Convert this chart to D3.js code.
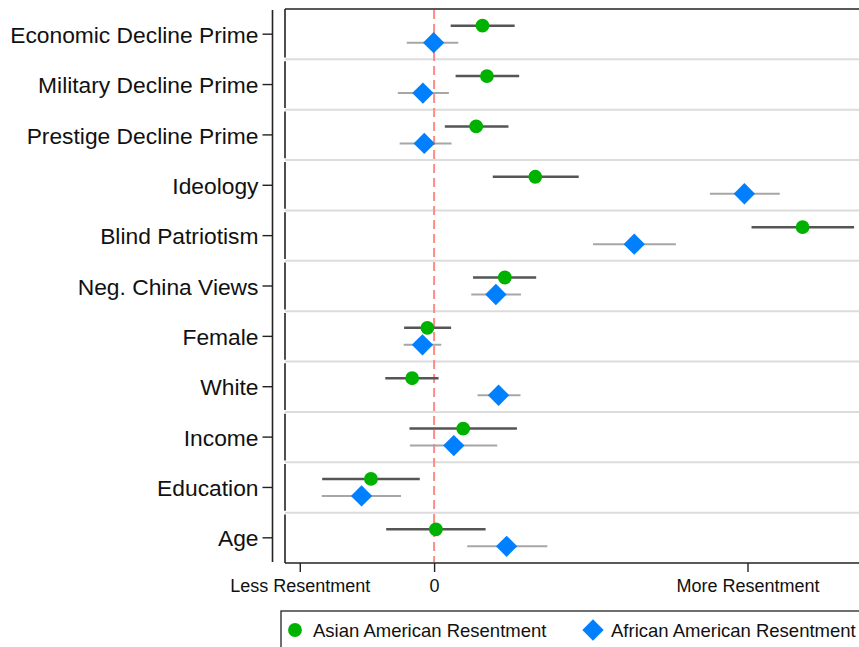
<!DOCTYPE html>
<html>
<head>
<meta charset="utf-8">
<script src="https://cdn.jsdelivr.net/npm/d3@7"></script>
<style>
  html, body { margin: 0; padding: 0; background: #fff; overflow: hidden; }
  svg { display: block; font-family: "Liberation Sans", Arial, Helvetica, sans-serif; }
</style>
</head>
<body>
<div id="chart"></div>
<script>
// Row labels, top to bottom
const variables = [
  'Economic Decline Prime', 'Military Decline Prime', 'Prestige Decline Prime',
  'Ideology', 'Blind Patriotism', 'Neg. China Views', 'Female', 'White',
  'Income', 'Education', 'Age'
];

// Asian American Resentment: estimate and CI
const asianEst = [0.108, 0.118, 0.094, 0.226, 0.823, 0.158, -0.015, -0.049, 0.065, -0.141, 0.004];
const asianLo  = [0.037, 0.048, 0.024, 0.131, 0.709, 0.087, -0.067, -0.109, -0.055, -0.250, -0.107];
const asianHi  = [0.180, 0.190, 0.166, 0.323, 0.938, 0.228, 0.038, 0.010, 0.185, -0.032, 0.115];

// African American Resentment: estimate and CI
const africanEst = [-0.001, -0.025, -0.022, 0.693, 0.447, 0.138, -0.026, 0.144, 0.044, -0.162, 0.162];
const africanLo  = [-0.061, -0.081, -0.077, 0.616, 0.355, 0.083, -0.068, 0.097, -0.054, -0.251, 0.074];
const africanHi  = [0.054, 0.033, 0.039, 0.772, 0.540, 0.194, 0.016, 0.193, 0.141, -0.074, 0.253];

// x axis ticks
const xTickValues = [-0.3, 0, 0.7];
const xTickLabels = ['Less Resentment', '0', 'More Resentment'];

const width = 859, height = 647;
const margin = { left: 285, top: 9, bottom: 563 };

const svg = d3.select('#chart').append('svg')
  .attr('width', width)
  .attr('height', height);

const x = d3.scaleLinear().domain([-0.333, 0.949]).range([margin.left, width]);
const y = d3.scaleBand().domain(variables).range([margin.top, margin.bottom]).padding(0);
const offset = d3.scalePoint().domain(['asian', 'african']).range([-8.5, 8.5]);

const series = [
  { key: 'asian', name: 'Asian American Resentment', est: asianEst, lo: asianLo, hi: asianHi,
    color: '#00b200', ci: '#555555', ciWidth: 2.5, shape: d3.symbolCircle, size: 150 },
  { key: 'african', name: 'African American Resentment', est: africanEst, lo: africanLo, hi: africanHi,
    color: '#0080ff', ci: '#a6a6a6', ciWidth: 2, shape: d3.symbolDiamond2, size: 290 }
];

// gridlines between bands
const bounds = variables.slice(1).map(v => y(v));
svg.append('g').selectAll('line')
  .data(bounds)
  .join('line')
  .attr('x1', margin.left).attr('x2', width)
  .attr('y1', d => d).attr('y2', d => d)
  .attr('stroke', '#dcdcdc')
  .attr('stroke-width', 2);

// frame: top, bottom, broken left edge
const frame = svg.append('g').attr('stroke', '#222').attr('stroke-width', 1.6).attr('fill', 'none');
frame.append('line').attr('x1', margin.left).attr('x2', width).attr('y1', margin.top).attr('y2', margin.top);
frame.append('line').attr('x1', margin.left).attr('x2', width).attr('y1', margin.bottom).attr('y2', margin.bottom);
frame.selectAll('.seg')
  .data(variables)
  .join('line')
  .attr('class', 'seg')
  .attr('x1', margin.left).attr('x2', margin.left)
  .attr('y1', (d, i) => y(d) + (i === 0 ? 0 : 1.8))
  .attr('y2', (d, i) => y(d) + y.bandwidth() - (i === variables.length - 1 ? 0 : 1.8));

// outer y axis
const yAxis = d3.axisLeft(y).tickSize(10).tickPadding(4);
const yg = svg.append('g')
  .attr('transform', 'translate(272.5,0)')
  .call(yAxis);
yg.select('.domain').attr('stroke', '#222').attr('stroke-width', 1.6)
  .attr('d', `M0,${margin.top + 1}V${margin.bottom - 1}`);
yg.selectAll('.tick line').attr('stroke', '#222').attr('stroke-width', 1.4);
yg.selectAll('.tick text')
  .attr('fill', '#111')
  .attr('dy', '0.38em')
  .style('font-size', '22.8px')
  .style('font-family', '"Liberation Sans", Arial, sans-serif');

// x axis
const xAxis = d3.axisBottom(x)
  .tickValues(xTickValues)
  .tickFormat((d, i) => xTickLabels[i])
  .tickSize(9)
  .tickPadding(7);
const xg = svg.append('g')
  .attr('transform', `translate(0,${margin.bottom})`)
  .call(xAxis);
xg.select('.domain').remove();
xg.selectAll('.tick line').attr('stroke', '#222').attr('stroke-width', 1.4);
xg.selectAll('.tick text')
  .attr('fill', '#111')
  .style('font-size', '18px')
  .style('font-family', '"Liberation Sans", Arial, sans-serif');

// zero reference line
svg.append('line')
  .attr('x1', x(0)).attr('x2', x(0))
  .attr('y1', margin.top + 1).attr('y2', margin.bottom - 1)
  .attr('stroke', '#ff8a8a')
  .attr('stroke-width', 2)
  .attr('stroke-dasharray', '9,5');

// confidence intervals and points
series.forEach(s => {
  const g = svg.append('g').attr('class', s.key);
  const rows = variables.map((v, i) => ({ v, est: s.est[i], lo: s.lo[i], hi: s.hi[i] }));
  g.selectAll('line')
    .data(rows)
    .join('line')
    .attr('x1', d => x(d.lo)).attr('x2', d => x(d.hi))
    .attr('y1', d => y(d.v) + y.bandwidth() / 2 + offset(s.key))
    .attr('y2', d => y(d.v) + y.bandwidth() / 2 + offset(s.key))
    .attr('stroke', s.ci)
    .attr('stroke-width', s.ciWidth);
  g.selectAll('path')
    .data(rows)
    .join('path')
    .attr('d', d3.symbol().type(s.shape).size(s.size))
    .attr('transform', d => `translate(${x(d.est)},${y(d.v) + y.bandwidth() / 2 + offset(s.key)})`)
    .attr('fill', s.color);
});

// legend
const legend = svg.append('g');
legend.append('rect')
  .attr('x', 281).attr('y', 611)
  .attr('width', 600).attr('height', 60)
  .attr('fill', '#fff')
  .attr('stroke', '#333')
  .attr('stroke-width', 1.4);
const legendX = [295, 593];
series.forEach((s, i) => {
  legend.append('path')
    .attr('d', d3.symbol().type(s.shape).size(s.size))
    .attr('transform', `translate(${legendX[i]},630)`)
    .attr('fill', s.color);
  legend.append('text')
    .attr('x', legendX[i] + 18)
    .attr('y', 636.5)
    .attr('fill', '#111')
    .style('font-size', '18.5px')
    .text(s.name);
});
</script>
</body>
</html>
